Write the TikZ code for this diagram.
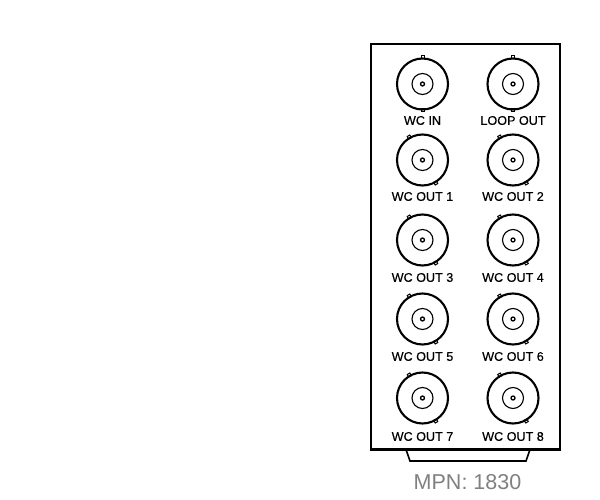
\documentclass[tikz,border=0pt]{standalone}
\usepackage{fontspec}
\setmainfont{Liberation Sans}
\newfontfamily\lblfont[FakeBold=0.35]{Liberation Sans}
\usetikzlibrary{calc}
\tikzset{
  outerring/.style={circle,draw=black,line width=2.1pt,minimum size=51pt,inner sep=0pt,outer sep=0pt},
  innerring/.style={circle,draw=black,line width=1.1pt,minimum size=21pt,inner sep=0pt,outer sep=0pt},
  pin/.style={circle,draw=black,line width=1.3pt,minimum size=4pt,inner sep=0pt,outer sep=0pt},
  lug/.style={rectangle,draw=black,line width=1pt,minimum size=3pt,inner sep=0pt,outer sep=0pt},
  lbl/.style={font=\lblfont\fontsize{12.6pt}{14pt}\selectfont,text=black,inner sep=0pt,anchor=center},
}
\begin{document}
\begin{tikzpicture}[x=1pt,y=-1pt,line join=miter]
\useasboundingbox (0,0) rectangle (600,500);
\node[draw=black,line width=2.1pt,minimum width=189pt,minimum height=405.5pt,inner sep=0pt,outer sep=0pt,anchor=north west] (panel) at (371,44) {};
\coordinate (ta) at (406,449.5);
\coordinate (tb) at (410,461);
\coordinate (tc) at (526,461);
\coordinate (td) at (530,449.5);
\draw[black,line width=1.6pt] (ta) -- (tb) -- (tc) -- (td);
\foreach \nm/\cx/\cy/\ang/\txt/\ly in {
  a/422.5/84/90/WC IN/120.5,
  b/513/84/90/LOOP OUT/120.5,
  c/422.5/160/120/WC OUT 1/196.5,
  d/513/160/120/WC OUT 2/196.5,
  e/422.5/240/120/WC OUT 3/277.5,
  f/513/240/120/WC OUT 4/277.5,
  g/422.5/319/120/WC OUT 5/356.5,
  h/513/319/120/WC OUT 6/356.5,
  i/422.5/398/120/WC OUT 7/436.5,
  j/513/398/120/WC OUT 8/436.5}{
  \node[outerring] (\nm o) at (\cx,\cy) {};
  \node[innerring] (\nm i) at (\cx,\cy) {};
  \node[pin] (\nm p) at (\cx,\cy) {};
  \node[lug,rotate=\ang] (\nm u) at ($(\nm o.center)+(\ang:26.5pt)$) {};
  \node[lug,rotate=\ang] (\nm v) at ($(\nm o.center)+(\ang+180:26.5pt)$) {};
  \node[lbl] (\nm l) at (\cx,\ly) {\txt};
}
\node[font=\fontsize{21.5pt}{24pt}\selectfont,text=black!50,inner sep=0pt] (mpn) at (467.5,482.5) {MPN: 1830};
\end{tikzpicture}
\end{document}
